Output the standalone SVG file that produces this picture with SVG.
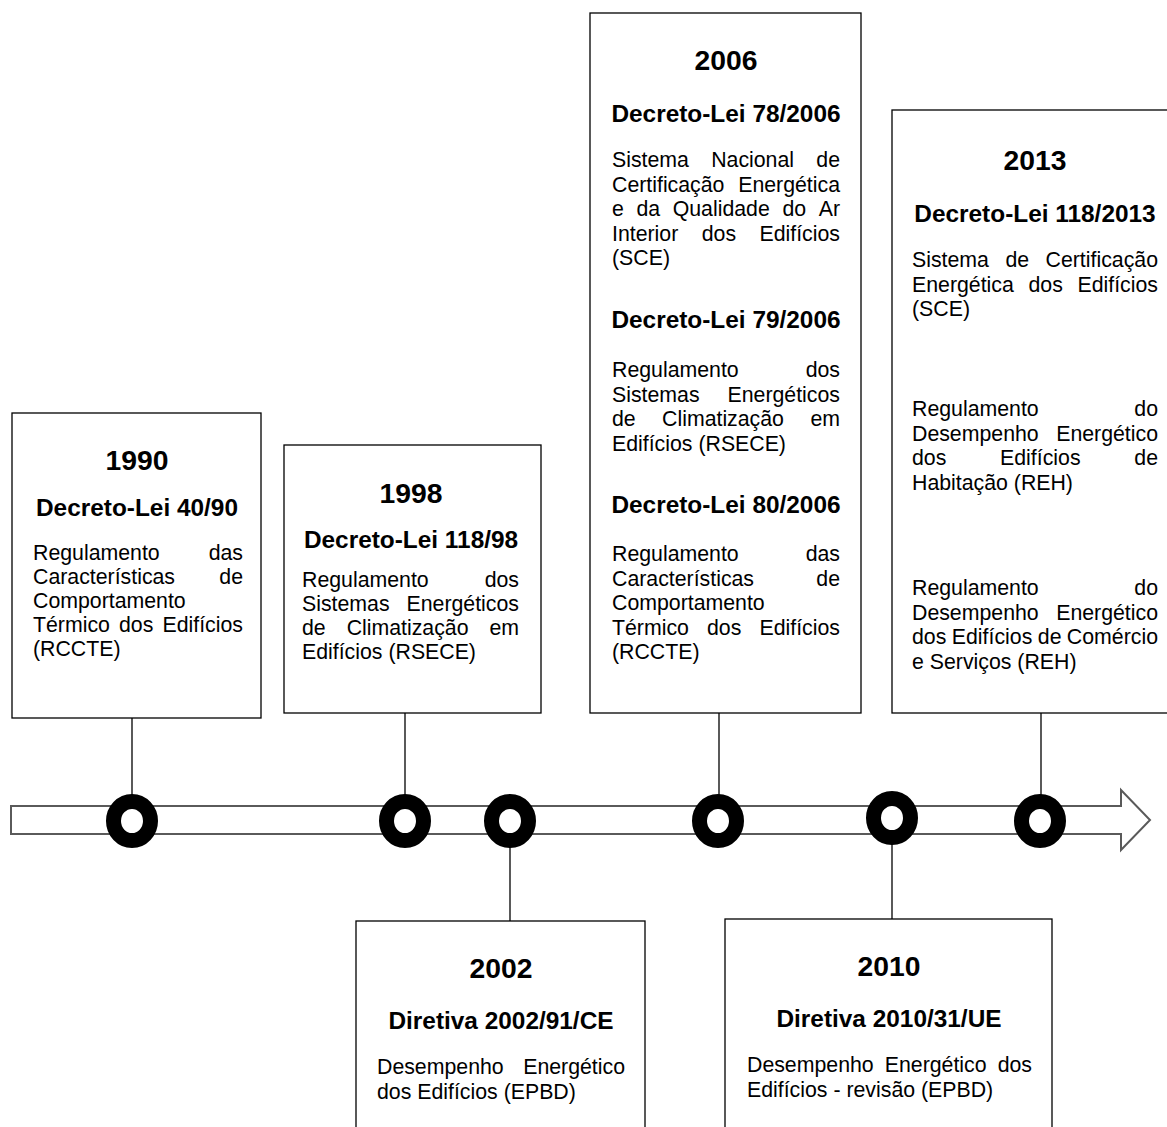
<svg xmlns="http://www.w3.org/2000/svg" width="1167" height="1127" viewBox="0 0 1167 1127">
<style>
.bg{fill:#fff}
.box{fill:#fff;stroke:#000;stroke-width:1.3}
.con line{stroke:#000;stroke-width:1.3}
.ring{fill:#fff;stroke:#000;stroke-width:15}
.arrow{fill:#fff;stroke:#5a5a5a;stroke-width:2}
text{font-family:"Liberation Sans",Arial,sans-serif;fill:#000}
.yr{font-size:28.3px;font-weight:700;text-anchor:middle}
.sub{font-size:24.4px;font-weight:700;text-anchor:middle}
.b{font-size:21.3px}
.e{text-anchor:end}
.m{text-anchor:middle}
</style>
<rect class="bg" x="0" y="0" width="1167" height="1127"/>

<g id="timeline">
<path class="arrow" d="M11,806 H1121 V790 L1150,820 L1121,850 V834 H11 Z"/>
</g>

<g id="connectors" class="con">
<line x1="132" y1="718" x2="132" y2="800"/>
<line x1="405" y1="713" x2="405" y2="800"/>
<line x1="719" y1="713" x2="719" y2="800"/>
<line x1="1041" y1="713" x2="1041" y2="800"/>
<line x1="510" y1="840" x2="510" y2="921"/>
<line x1="892" y1="836" x2="892" y2="919"/>
</g>

<g id="markers">
<ellipse class="ring" cx="132" cy="821" rx="18.5" ry="19.5"/>
<ellipse class="ring" cx="405" cy="821" rx="18.5" ry="19.5"/>
<ellipse class="ring" cx="510" cy="821" rx="18.5" ry="19.5"/>
<ellipse class="ring" cx="718" cy="821" rx="18.5" ry="19.5"/>
<ellipse class="ring" cx="892" cy="818" rx="18.5" ry="19.5"/>
<ellipse class="ring" cx="1040" cy="821" rx="18.5" ry="19.5"/>
</g>

<g id="n1990">
<rect class="box" x="12" y="413" width="249" height="305"/>
<text class="yr" x="137" y="470">1990</text>
<text class="sub" x="137" y="516">Decreto-Lei 40/90</text>
<text class="b" x="33" y="560">Regulamento</text><text class="b e" x="243" y="560">das</text>
<text class="b" x="33" y="584">Características</text><text class="b e" x="243" y="584">de</text>
<text class="b" x="33" y="608">Comportamento</text>
<text class="b" x="33" y="632">Térmico</text><text class="b m" x="136.2" y="632">dos</text><text class="b e" x="243" y="632">Edifícios</text>
<text class="b" x="33" y="656">(RCCTE)</text>
</g>

<g id="n1998">
<rect class="box" x="284" y="445" width="257" height="268"/>
<text class="yr" x="411" y="503">1998</text>
<text class="sub" x="411" y="548">Decreto-Lei 118/98</text>
<text class="b" x="302" y="587">Regulamento</text><text class="b e" x="519" y="587">dos</text>
<text class="b" x="302" y="611">Sistemas</text><text class="b e" x="519" y="611">Energéticos</text>
<text class="b" x="302" y="635">de</text><text class="b m" x="407.6" y="635">Climatização</text><text class="b e" x="519" y="635">em</text>
<text class="b" x="302" y="659">Edifícios (RSECE)</text>
</g>

<g id="n2006">
<rect class="box" x="590" y="13" width="271" height="700"/>
<text class="yr" x="726" y="70">2006</text>
<text class="sub" x="726" y="122">Decreto-Lei 78/2006</text>
<text class="b" x="612" y="167">Sistema</text><text class="b m" x="752.6" y="167">Nacional</text><text class="b e" x="840" y="167">de</text>
<text class="b" x="612" y="191.5">Certificação</text><text class="b e" x="840" y="191.5">Energética</text>
<text class="b" x="612" y="216">e</text><text class="b" x="636.4" y="216">da</text><text class="b" x="672.7" y="216">Qualidade</text><text class="b" x="782.4" y="216">do</text><text class="b e" x="840" y="216">Ar</text>
<text class="b" x="612" y="240.5">Interior</text><text class="b m" x="718.9" y="240.5">dos</text><text class="b e" x="840" y="240.5">Edifícios</text>
<text class="b" x="612" y="265">(SCE)</text>
<text class="sub" x="726" y="328">Decreto-Lei 79/2006</text>
<text class="b" x="612" y="377">Regulamento</text><text class="b e" x="840" y="377">dos</text>
<text class="b" x="612" y="401.5">Sistemas</text><text class="b e" x="840" y="401.5">Energéticos</text>
<text class="b" x="612" y="426">de</text><text class="b m" x="723" y="426">Climatização</text><text class="b e" x="840" y="426">em</text>
<text class="b" x="612" y="450.5">Edifícios (RSECE)</text>
<text class="sub" x="726" y="513">Decreto-Lei 80/2006</text>
<text class="b" x="612" y="561">Regulamento</text><text class="b e" x="840" y="561">das</text>
<text class="b" x="612" y="585.5">Características</text><text class="b e" x="840" y="585.5">de</text>
<text class="b" x="612" y="610">Comportamento</text>
<text class="b" x="612" y="634.5">Térmico</text><text class="b m" x="724.2" y="634.5">dos</text><text class="b e" x="840" y="634.5">Edifícios</text>
<text class="b" x="612" y="659">(RCCTE)</text>
</g>

<g id="n2013">
<rect class="box" x="892" y="110" width="300" height="603"/>
<text class="yr" x="1035" y="170">2013</text>
<text class="sub" x="1035" y="222">Decreto-Lei 118/2013</text>
<text class="b" x="912" y="267">Sistema</text><text class="b m" x="1017.3" y="267">de</text><text class="b e" x="1158" y="267">Certificação</text>
<text class="b" x="912" y="291.5">Energética</text><text class="b m" x="1045.7" y="291.5">dos</text><text class="b e" x="1158" y="291.5">Edifícios</text>
<text class="b" x="912" y="316">(SCE)</text>
<text class="b" x="912" y="416">Regulamento</text><text class="b e" x="1158" y="416">do</text>
<text class="b" x="912" y="440.5">Desempenho</text><text class="b e" x="1158" y="440.5">Energético</text>
<text class="b" x="912" y="465">dos</text><text class="b m" x="1040.3" y="465">Edifícios</text><text class="b e" x="1158" y="465">de</text>
<text class="b" x="912" y="489.5">Habitação (REH)</text>
<text class="b" x="912" y="595">Regulamento</text><text class="b e" x="1158" y="595">do</text>
<text class="b" x="912" y="619.5">Desempenho</text><text class="b e" x="1158" y="619.5">Energético</text>
<text class="b" x="912" y="644">dos</text><text class="b" x="951.8" y="644">Edifícios</text><text class="b" x="1037.8" y="644">de</text><text class="b e" x="1158" y="644">Comércio</text>
<text class="b" x="912" y="668.5">e Serviços (REH)</text>
</g>

<g id="n2002">
<rect class="box" x="356" y="921" width="289" height="230"/>
<text class="yr" x="501" y="978">2002</text>
<text class="sub" x="501" y="1029">Diretiva 2002/91/CE</text>
<text class="b" x="377" y="1074">Desempenho</text><text class="b e" x="625" y="1074">Energético</text>
<text class="b" x="377" y="1099">dos Edifícios (EPBD)</text>
</g>

<g id="n2010">
<rect class="box" x="725" y="919" width="327" height="230"/>
<text class="yr" x="889" y="976">2010</text>
<text class="sub" x="889" y="1027">Diretiva 2010/31/UE</text>
<text class="b" x="747" y="1072">Desempenho</text><text class="b m" x="935.7" y="1072">Energético</text><text class="b e" x="1032" y="1072">dos</text>
<text class="b" x="747" y="1097">Edifícios - revisão (EPBD)</text>
</g>
</svg>
